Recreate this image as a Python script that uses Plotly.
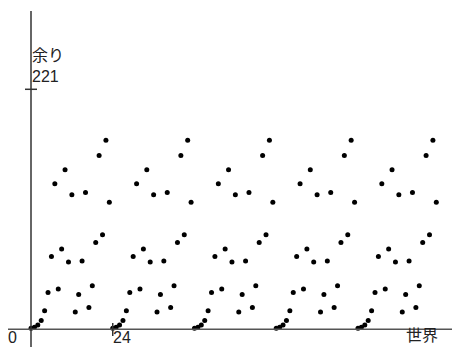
import plotly.graph_objects as go

# index (x) and remainder (y) values
steps = list(range(120))
remainders = [
    1, 2, 4, 8, 17, 34, 67, 134, 37, 74, 147, 62, 124, 16, 32, 63, 126, 20, 40, 80, 160, 87, 174, 117,
    1, 2, 4, 8, 17, 34, 67, 134, 37, 74, 147, 62, 124, 16, 32, 63, 126, 20, 40, 80, 160, 87, 174, 117,
    1, 2, 4, 8, 17, 34, 67, 134, 37, 74, 147, 62, 124, 16, 32, 63, 126, 20, 40, 80, 160, 87, 174, 117,
    1, 2, 4, 8, 17, 34, 67, 134, 37, 74, 147, 62, 124, 16, 32, 63, 126, 20, 40, 80, 160, 87, 174, 117,
    1, 2, 4, 8, 17, 34, 67, 134, 37, 74, 147, 62, 124, 16, 32, 63, 126, 20, 40, 80, 160, 87, 174, 117,
]
x_tick_value = 24
x_tick_label = "24"
y_tick_value = 221
y_tick_label = "221"
x_title = "世界"
y_title = "余り"
origin_label = "0"

# the page body has an 8px margin; figure fills the rest of the 460x347 window
OFF = 8
W, H = 460 - OFF, 347 - OFF
PX_X = 3.406   # pixels per x unit
PX_Y = 1.086   # pixels per y unit
X0, Y0 = 31.0, 329.3   # origin in window pixels


def dx(px):
    return (px - X0) / PX_X


def dy(py):
    return (Y0 - py) / PX_Y


fig = go.Figure()
fig.add_trace(go.Scatter(
    x=steps, y=remainders, mode="markers",
    marker=dict(size=5, color="#000000", line=dict(width=0)),
    hoverinfo="x+y", showlegend=False,
))

axis_col = "#333333"
shapes = [
    dict(type="line", xref="x", yref="y", x0=dx(8), x1=dx(457), y0=0, y1=0,
         line=dict(color="#555555", width=1.5)),
    dict(type="line", xref="x", yref="y", x0=0, x1=0, y0=dy(11), y1=dy(350),
         line=dict(color=axis_col, width=1.5)),
    dict(type="line", xref="x", yref="y", x0=dx(25), x1=dx(37), y0=y_tick_value, y1=y_tick_value,
         line=dict(color=axis_col, width=1.5)),
    dict(type="line", xref="x", yref="y", x0=x_tick_value, x1=x_tick_value, y0=dy(323), y1=dy(336),
         line=dict(color=axis_col, width=1.5)),
]

mixed_font = dict(family="Liberation Sans, Noto Sans CJK JP", size=16, color="#222222")
digit_font = dict(family="Liberation Sans", size=16, color="#222222")

annotations = [
    dict(text=y_title + "<br>" + y_tick_label, x=dx(31), y=dy(46), xref="x", yref="y",
         xanchor="left", yanchor="top", align="left",
         showarrow=False, borderpad=0, font=mixed_font),
    dict(text=origin_label, x=dx(18), y=dy(346.5), xref="x", yref="y", xanchor="right", yanchor="bottom",
         showarrow=False, borderpad=0, font=digit_font),
    dict(text=x_tick_label, x=dx(112), y=dy(346.5), xref="x", yref="y", xanchor="left", yanchor="bottom",
         showarrow=False, borderpad=0, font=digit_font),
    dict(text=x_title, x=dx(405), y=dy(346.5), xref="x", yref="y", xanchor="left", yanchor="bottom",
         showarrow=False, borderpad=0, font=dict(family="Noto Sans CJK JP", size=16, color="#222222")),
]

fig.update_layout(
    width=W, height=H, autosize=False,
    margin=dict(l=0, r=0, t=0, b=0),
    paper_bgcolor="white", plot_bgcolor="white",
    xaxis=dict(range=[dx(OFF), dx(460)], visible=False, fixedrange=True),
    yaxis=dict(range=[dy(347), dy(OFF)], visible=False, fixedrange=True),
    shapes=shapes, annotations=annotations,
)

fig.write_html("out.html")
